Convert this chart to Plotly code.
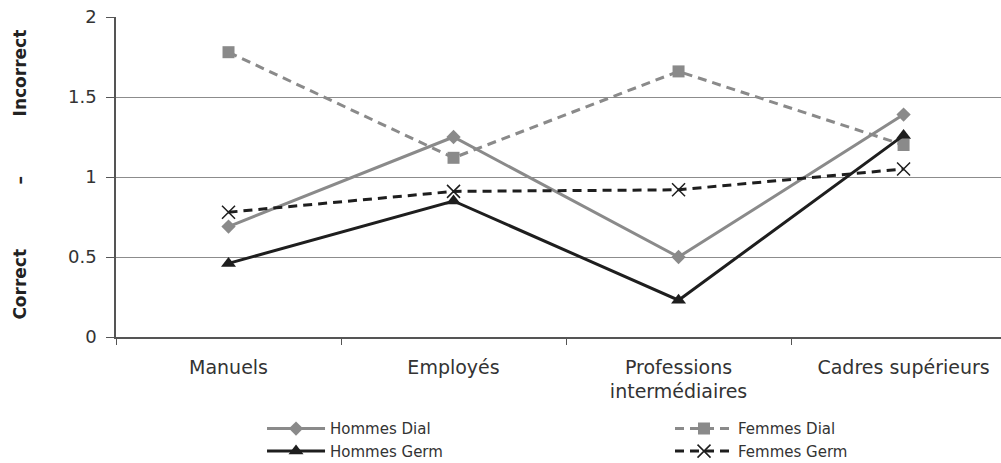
import plotly.graph_objects as go

# Occupational categories on the x axis
categories = ["Manuels", "Employés", "Professions<br>intermédiaires", "Cadres supérieurs"]

# Score (Correct – Incorrect) per group
hommes_dial = [0.69, 1.25, 0.50, 1.39]
femmes_dial = [1.78, 1.12, 1.66, 1.20]
hommes_germ = [0.46, 0.85, 0.23, 1.26]
femmes_germ = [0.78, 0.91, 0.92, 1.05]

y_ticks = [0, 0.5, 1, 1.5, 2]
y_ticktext = ["0", "0.5", "1", "1.5", "2"]

GRAY = "#8a8a8a"
BLACK = "#1e1e1e"
FONT = "DejaVu Sans"

fig = go.Figure()
fig.add_trace(go.Scatter(
    x=categories, y=hommes_dial, name="Hommes Dial", mode="lines+markers",
    line=dict(color=GRAY, width=3), legend="legend",
    marker=dict(symbol="diamond", size=11, color=GRAY)))
fig.add_trace(go.Scatter(
    x=categories, y=femmes_dial, name="Femmes Dial", mode="lines+markers",
    line=dict(color=GRAY, width=3, dash="9px,6px"), legend="legend2",
    marker=dict(symbol="square", size=12, color=GRAY)))
fig.add_trace(go.Scatter(
    x=categories, y=hommes_germ, name="Hommes Germ", mode="lines+markers",
    line=dict(color=BLACK, width=3), legend="legend",
    marker=dict(symbol="triangle-up", size=13, color=BLACK)))
fig.add_trace(go.Scatter(
    x=categories, y=femmes_germ, name="Femmes Germ", mode="lines+markers",
    line=dict(color=BLACK, width=3, dash="9px,6px"), legend="legend2",
    marker=dict(symbol="x-thin-open", size=13, color=BLACK,
                line=dict(color=BLACK, width=1.5))))

# Vertical axis title split into three bold pieces
for txt, yv in [("Correct", 0.33), ("–", 0.98), ("Incorrect", 1.65)]:
    fig.add_annotation(text=txt, xref="paper", yref="y", x=-0.108, y=yv,
                       textangle=-90, showarrow=False, xanchor="center", yanchor="middle",
                       font=dict(family=FONT, size=17, color="#222222", weight="bold"))

legend_style = dict(orientation="v", yref="container", y=0.05, yanchor="middle",
                    xanchor="left", itemwidth=58, tracegroupgap=0,
                    font=dict(family=FONT, size=15, color="#333333"),
                    bgcolor="rgba(0,0,0,0)")

fig.update_layout(
    width=1001, height=463,
    margin=dict(l=116, r=0, t=17, b=126, autoexpand=False),
    paper_bgcolor="white", plot_bgcolor="white",
    font=dict(family=FONT, color="#333333"),
    showlegend=True,
    legend=dict(x=0.165, **legend_style),
    legend2=dict(x=0.626, **legend_style),
    xaxis=dict(type="category", range=[-0.5, 3.433], tickson="boundaries",
               ticks="outside", ticklen=6, tickcolor="#555555",
               ticklabelstandoff=12,
               showline=True, linecolor="#555555", linewidth=1.5,
               showgrid=False, zeroline=False,
               tickfont=dict(family=FONT, size=19, color="#333333")),
    yaxis=dict(range=[0, 2], tickvals=y_ticks, ticktext=y_ticktext,
               ticks="outside", ticklen=8, tickcolor="#555555",
               ticklabelstandoff=6,
               showline=True, linecolor="#555555", linewidth=1.5,
               showgrid=True, gridcolor="#8c8c8c", gridwidth=1.2,
               zeroline=False,
               tickfont=dict(family=FONT, size=18, color="#333333")),
)

fig.write_html("out.html")
